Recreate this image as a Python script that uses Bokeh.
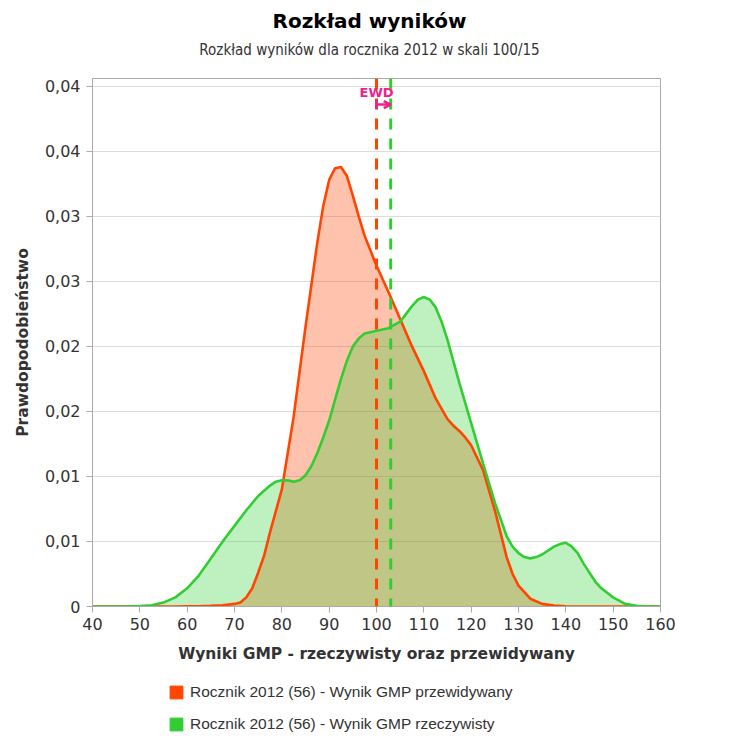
import numpy as np
from bokeh.plotting import figure
from bokeh.layouts import column
from bokeh.models import (ColumnDataSource, Range1d, FixedTicker, Legend, LegendItem,
                          Arrow, TeeHead, OpenHead, Span, Label, CustomJSTickFormatter)
from bokeh.embed import file_html
from bokeh.resources import INLINE

# ---------------- data ----------------
title_text = "Rozkład wyników"
subtitle_text = "Rozkład wyników dla rocznika 2012 w skali 100/15"
x_label = "Wyniki GMP - rzeczywisty oraz przewidywany"
y_label = "Prawdopodobieństwo"
series_names = ["Rocznik 2012 (56) - Wynik GMP przewidywany",
                "Rocznik 2012 (56) - Wynik GMP rzeczywisty"]

# predicted (orange) density
pred_x = [40, 42.5, 45, 47.5, 50, 52.5, 55, 57.5, 60, 62.5, 65, 67.5, 70, 71.25, 72.5, 73.75,
          75, 76.25, 77.5, 80, 82.5, 85, 87.5, 88.75, 90, 91.25, 92.5, 93.75, 95, 96.25, 97.5,
          100, 102.5, 105, 107.5, 110, 112.5, 115, 116.25, 117.5, 118.75, 120, 122.5, 125,
          126.25, 127.5, 128.75, 130, 132.5, 135, 137.5, 140, 142.5, 145, 147.5, 150, 152.5,
          155, 157.5, 160]
pred_y = [0.0, 0.0, 0.0, 0.0, 0.0, 0.0, 0.0, 0.0, 0.00001, 0.00002, 0.00005, 0.0001, 0.0002,
          0.0003, 0.0007, 0.0014, 0.0026, 0.0039, 0.0057, 0.0090, 0.0146, 0.0215, 0.0280,
          0.0308, 0.0328, 0.0337, 0.0338, 0.0331, 0.0316, 0.0300, 0.0285, 0.0262, 0.0242,
          0.0221, 0.0200, 0.0181, 0.0160, 0.0144, 0.0139, 0.0135, 0.0130, 0.0124, 0.0105,
          0.0074, 0.0056, 0.0038, 0.0025, 0.0016, 0.0006, 0.0002, 0.00007, 0.00002, 0.0, 0.0,
          0.0, 0.0, 0.0, 0.0, 0.0, 0.0]

# actual (green) density
act_x = [40, 42.5, 45, 47.5, 50, 52.5, 55, 57.5, 60, 62.5, 65, 67.5, 70, 72.5, 75, 77.5,
         78.75, 80, 81.25, 82.5, 83.75, 85, 86.25, 87.5, 88.75, 90, 91.25, 92.5, 93.75, 95,
         96.25, 97.5, 100, 102.5, 105, 106.25, 107.5, 108.75, 110, 111.25, 112.5, 113.75, 115,
         117.5, 120, 122.5, 125, 127.5, 128.75, 130, 131.25, 132.5, 133.75, 135, 137.5, 138.75,
         140, 141.25, 142.5, 143.75, 145, 146.25, 147.5, 150, 152.5, 155, 157.5, 160]
act_y = [0.0, 0.0, 0.0, 0.00001, 0.00003, 0.0001, 0.0003, 0.0007, 0.0014, 0.0024, 0.0037,
         0.0050, 0.0062, 0.0074, 0.0085, 0.0093, 0.0096, 0.0097, 0.0097, 0.0096, 0.0097,
         0.0101, 0.0108, 0.0118, 0.0130, 0.0143, 0.0159, 0.0175, 0.0189, 0.0200, 0.0206,
         0.0210, 0.0212, 0.0214, 0.0219, 0.0225, 0.0231, 0.0236, 0.0238, 0.0236, 0.0230,
         0.0219, 0.0205, 0.0172, 0.0141, 0.0110, 0.0080, 0.0054, 0.0046, 0.0041, 0.0038,
         0.0037, 0.0038, 0.0040, 0.0046, 0.0048, 0.0049, 0.0046, 0.0041, 0.0033, 0.0026,
         0.0019, 0.0014, 0.0007, 0.0002, 0.00005, 0.0, 0.0]

mean_predicted = 100
mean_actual = 103
ewd_label = "EWD"

x_ticks = [40, 50, 60, 70, 80, 90, 100, 110, 120, 130, 140, 150, 160]
y_ticks = [0, 0.005, 0.01, 0.015, 0.02, 0.025, 0.03, 0.035, 0.04]
y_tick_labels = ["0", "0,01", "0,01", "0,02", "0,02", "0,03", "0,03", "0,04", "0,04"]

# ---------------- style ----------------
ORANGE = "#ff4500"
GREEN = "#32cd32"
PINK = "#f0208c"
TXT = "#333333"
AXIS = "#aaaaaa"
W = 723

# ---------------- header (title + subtitle) ----------------
# (the column aligns this strip's frame with the chart frame, i.e. pixels 92..660)
HEAD_H = 66
head = figure(width=W, height=HEAD_H, x_range=Range1d(92, 660), y_range=Range1d(0, HEAD_H),
              output_backend="svg", toolbar_location=None, x_axis_type=None, y_axis_type=None,
              min_border=0)
head.outline_line_color = None
head.grid.visible = False
head.add_layout(Label(x=369, y=46, text=title_text, text_align="center", text_baseline="middle",
                      text_font="DejaVu Sans", text_font_style="bold", text_font_size="20px",
                      text_color="#000000"))
head.add_layout(Label(x=369, y=17, text=subtitle_text, text_align="center", text_baseline="middle",
                      text_font="DejaVu Sans Condensed", text_font_size="15px",
                      text_color=TXT))

# ---------------- main chart ----------------
src_p = ColumnDataSource(dict(x=pred_x, y=pred_y))
src_a = ColumnDataSource(dict(x=act_x, y=act_y))

p = figure(width=W, height=604, x_range=Range1d(40, 160), y_range=Range1d(0, 0.0406),
           output_backend="svg", toolbar_location=None, title=None,
           min_border_left=92, min_border_right=63, min_border_top=12, min_border_bottom=64)
p.background_fill_color = "white"
p.border_fill_color = "white"
p.outline_line_color = AXIS

p.varea(x="x", y1=0, y2="y", source=src_p, fill_color=ORANGE, fill_alpha=0.32)
p.varea(x="x", y1=0, y2="y", source=src_a, fill_color=GREEN, fill_alpha=0.31)
p.line(x="x", y="y", source=src_p, line_color=ORANGE, line_width=2.6)
p.line(x="x", y="y", source=src_a, line_color=GREEN, line_width=2.6)

p.add_layout(Span(location=mean_predicted, dimension="height", line_color=ORANGE,
                  line_width=3, line_dash="11 9"))
p.add_layout(Span(location=mean_actual, dimension="height", line_color=GREEN,
                  line_width=3, line_dash="11 9"))

p.add_layout(Arrow(start=TeeHead(size=9, line_color=PINK, line_width=2.5),
                   end=OpenHead(size=7, line_color=PINK, line_width=2.5),
                   x_start=mean_predicted, x_end=mean_actual, y_start=0.0386, y_end=0.0386,
                   line_color=PINK, line_width=2.5))
p.add_layout(Label(x=mean_predicted, y=0.03955, text=ewd_label, text_align="center",
                   text_baseline="middle", text_font="DejaVu Sans", text_font_style="bold",
                   text_font_size="13px", text_color=PINK))

p.xaxis.ticker = FixedTicker(ticks=x_ticks)
p.yaxis.ticker = FixedTicker(ticks=y_ticks)
p.yaxis.formatter = CustomJSTickFormatter(args=dict(tvals=y_ticks, tlabels=y_tick_labels), code="""
for (let i = 0; i < tvals.length; i++) { if (Math.abs(tick - tvals[i]) < 1e-9) return tlabels[i]; }
return String(tick).replace('.', ',');
""")
p.xaxis.axis_label = x_label
p.yaxis.axis_label = y_label
for ax in (p.xaxis, p.yaxis):
    ax.axis_line_color = AXIS
    ax.major_tick_line_color = AXIS
    ax.major_tick_out = 6
    ax.major_tick_in = 0
    ax.minor_tick_line_color = None
    ax.major_label_text_font = "DejaVu Sans"
    ax.major_label_text_font_size = "16px"
    ax.major_label_text_color = TXT
    ax.axis_label_text_font = "DejaVu Sans"
    ax.axis_label_text_font_style = "bold"
    ax.axis_label_text_font_size = "15.5px"
    ax.axis_label_text_color = TXT
p.xaxis.major_label_standoff = 5
p.xaxis.axis_label_standoff = 12
p.yaxis.major_label_standoff = 6
p.yaxis.axis_label_standoff = 10

p.xgrid.visible = False
p.ygrid.grid_line_color = "#dcdcdc"

# ---------------- legend strip below the chart ----------------
leg = figure(width=W, height=66, x_range=Range1d(0, 1), y_range=Range1d(0, 1),
             output_backend="svg", toolbar_location=None, x_axis_type=None, y_axis_type=None,
             min_border=0)
leg.outline_line_color = None
leg.grid.visible = False
nan = [np.nan]
r_or = leg.quad(left=nan, right=nan, top=nan, bottom=nan, fill_color=ORANGE, line_color=ORANGE)
r_gr = leg.quad(left=nan, right=nan, top=nan, bottom=nan, fill_color=GREEN, line_color=GREEN)
legend = Legend(items=[LegendItem(label=series_names[0], renderers=[r_or]),
                       LegendItem(label=series_names[1], renderers=[r_gr])],
                location=(76, 3), orientation="vertical", glyph_width=16, glyph_height=16,
                label_height=16, spacing=14, label_standoff=6, padding=0, margin=0,
                label_text_font="Liberation Sans", label_text_font_size="15.5px",
                label_text_color=TXT, border_line_color=None, background_fill_alpha=0)
leg.add_layout(legend, "center")

layout = column(head, p, leg, spacing=0)
open("out.html", "w").write(file_html(layout, INLINE))
